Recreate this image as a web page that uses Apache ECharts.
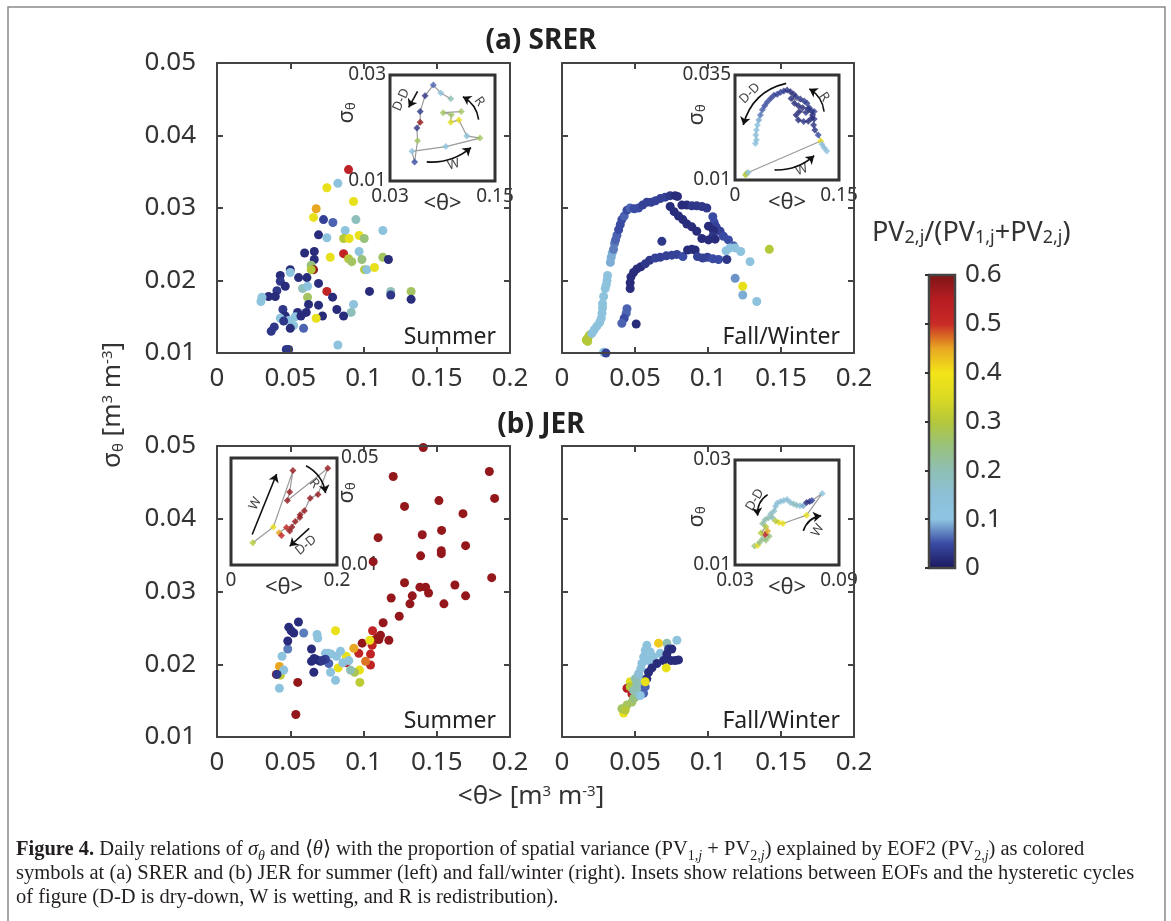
<!DOCTYPE html>
<html><head><meta charset="utf-8">
<script src="https://cdn.jsdelivr.net/npm/echarts@6/dist/echarts.min.js"></script>
<style>
html,body{margin:0;padding:0;background:#fff;}
#chart{width:1171px;height:921px;position:absolute;left:0;top:0;}
#cap{position:absolute;left:16px;top:836px;font-family:"Liberation Serif",serif;font-size:20.5px;line-height:24px;color:#231f20;white-space:nowrap;}
#cap sub{font-size:14px;line-height:0;}
</style></head><body>
<div id="chart"></div>
<div id="cap"><b>Figure 4.</b> Daily relations of <i>σ<sub>θ</sub></i> and ⟨<i>θ</i>⟩ with the proportion of spatial variance (PV<sub>1,<i>j</i></sub> + PV<sub>2,<i>j</i></sub>) explained by EOF2 (PV<sub>2,<i>j</i></sub>) as colored<br>symbols at (a) SRER and (b) JER for summer (left) and fall/winter (right). Insets show relations between EOFs and the hysteretic cycles<br>of figure (D-D is dry-down, W is wetting, and R is redistribution).</div>
<script>
// ---------- colour scale (PV2,j/(PV1,j+PV2,j), 0 .. 0.6, evenly spaced) ----------
const colormap = ['#1c1860','#3a4ba3','#8ec5e2','#8dc0d8','#8fbfb4','#98c27c','#b5c83a','#dcda22','#f2e418','#e8a622','#c92a26','#b61c22','#7d1616'];
const colorbarTicks = [0, 0.1, 0.2, 0.3, 0.4, 0.5, 0.6];
const mainXTicks = [0, 0.05, 0.1, 0.15, 0.2];
const mainYTicks = [0.01, 0.02, 0.03, 0.04, 0.05];

// ---------- main panels: [<theta>, sigma_theta, PV ratio] ----------
const srerSummer = [[0.0898,0.0353,0.53],[0.0825,0.0334,0.12],[0.075,0.0328,0.38],[0.0932,0.0309,0.38],[0.0677,0.0299,0.45],[0.0659,0.0287,0.38],[0.0727,0.0284,0.04],[0.0791,0.0280,0.06],[0.0948,0.0284,0.19],[0.0875,0.0269,0.12],[0.1132,0.0269,0.12],[0.0693,0.0263,0.02],[0.075,0.0259,0.12],[0.0864,0.0258,0.3],[0.0902,0.0258,0.38],[0.097,0.0262,0.38],[0.1005,0.0258,0.25],[0.0598,0.0238,0.02],[0.0664,0.024,0.02],[0.0864,0.0237,0.52],[0.097,0.024,0.12],[0.0773,0.0232,0.38],[0.0898,0.023,0.3],[0.092,0.0226,0.27],[0.0989,0.0229,0.25],[0.1132,0.0232,0.27],[0.117,0.0229,0.02],[0.0664,0.0229,0.02],[0.0643,0.0221,0.25],[0.0659,0.0215,0.58],[0.0643,0.0215,0.3],[0.05,0.0215,0.02],[0.05,0.0211,0.12],[0.0432,0.0207,0.02],[0.0557,0.0204,0.02],[0.0614,0.0204,0.02],[0.1007,0.0215,0.3],[0.1023,0.0215,0.12],[0.1075,0.0218,0.38],[0.0432,0.0199,0.03],[0.0466,0.0192,0.02],[0.0409,0.0186,0.03],[0.0584,0.0189,0.19],[0.0618,0.0192,0.12],[0.0693,0.0196,0.02],[0.075,0.0185,0.52],[0.0789,0.0177,0.02],[0.0618,0.0177,0.27],[0.0398,0.0178,0.02],[0.0352,0.0178,0.02],[0.0307,0.0177,0.12],[0.03,0.0171,0.12],[0.1041,0.0185,0.02],[0.1186,0.0185,0.19],[0.1186,0.018,0.03],[0.1325,0.0185,0.27],[0.1325,0.0174,0.02],[0.0625,0.0167,0.02],[0.0693,0.0166,0.02],[0.0932,0.0167,0.12],[0.045,0.016,0.03],[0.055,0.0156,0.02],[0.0609,0.0156,0.02],[0.0818,0.016,0.02],[0.0916,0.0156,0.19],[0.0864,0.0151,0.02],[0.072,0.0151,0.02],[0.0677,0.0148,0.38],[0.0466,0.0151,0.02],[0.0432,0.0148,0.12],[0.0534,0.015,0.12],[0.0573,0.0151,0.02],[0.0489,0.0145,0.12],[0.0455,0.0144,0.03],[0.0523,0.0138,0.12],[0.05,0.0134,0.02],[0.0591,0.0134,0.06],[0.0391,0.0136,0.03],[0.037,0.013,0.03],[0.0825,0.0111,0.12],[0.0473,0.0105,0.03],[0.0489,0.0105,0.03]];

const srerFallWinter = [[0.0166,0.0118,0.3],[0.0178,0.0121,0.3],[0.0189,0.0125,0.3],[0.0176,0.0116,0.3],[0.0285,0.0101,0.12],[0.0301,0.0100,0.04],[0.0205,0.0127,0.13],[0.0221,0.0132,0.13],[0.0239,0.0137,0.13],[0.0258,0.0142,0.13],[0.0269,0.0148,0.13],[0.0274,0.0155,0.13],[0.0278,0.0162,0.13],[0.0278,0.0168,0.13],[0.0285,0.0178,0.13],[0.0296,0.0189,0.13],[0.0303,0.0194,0.13],[0.0308,0.0200,0.13],[0.0312,0.0207,0.13],[0.0331,0.0225,0.09],[0.0337,0.0232,0.09],[0.0344,0.0238,0.09],[0.0353,0.0243,0.07],[0.0360,0.0251,0.07],[0.0367,0.0256,0.06],[0.0376,0.0262,0.06],[0.0388,0.0270,0.05],[0.0399,0.0277,0.05],[0.0410,0.0284,0.05],[0.0426,0.0289,0.06],[0.0445,0.0297,0.05],[0.0467,0.0300,0.06],[0.0495,0.0299,0.05],[0.0524,0.0300,0.05],[0.0552,0.0304,0.04],[0.0581,0.0308,0.04],[0.0611,0.0308,0.04],[0.0641,0.0310,0.04],[0.0673,0.0313,0.04],[0.0707,0.0315,0.04],[0.0741,0.0317,0.03],[0.0775,0.0317,0.02],[0.0791,0.0316,0.02],[0.0741,0.0302,0.02],[0.0768,0.0295,0.02],[0.0798,0.0289,0.02],[0.0828,0.0284,0.02],[0.0855,0.0278,0.02],[0.0889,0.0274,0.02],[0.0923,0.0268,0.02],[0.0958,0.0258,0.02],[0.0821,0.0304,0.02],[0.0855,0.0304,0.02],[0.0889,0.0303,0.03],[0.0923,0.0303,0.03],[0.0958,0.0302,0.03],[0.0992,0.0300,0.03],[0.1033,0.0288,0.05],[0.1042,0.0280,0.05],[0.1056,0.0274,0.04],[0.1083,0.0268,0.04],[0.1106,0.0261,0.05],[0.1140,0.0256,0.05],[0.1174,0.0248,0.06],[0.1151,0.0245,0.1],[0.1124,0.0241,0.12],[0.1186,0.0245,0.12],[0.1224,0.0240,0.12],[0.1288,0.0226,0.12],[0.1186,0.0203,0.08],[0.1238,0.0192,0.38],[0.1238,0.0180,0.09],[0.1334,0.0171,0.12],[0.1420,0.0243,0.3],[0.1003,0.0275,0.02],[0.1037,0.0269,0.02],[0.1033,0.0261,0.03],[0.1003,0.0256,0.02],[0.1049,0.0257,0.02],[0.0467,0.0189,0.02],[0.0467,0.0197,0.02],[0.0472,0.0205,0.02],[0.0490,0.0211,0.02],[0.0513,0.0216,0.02],[0.0540,0.0219,0.02],[0.0570,0.0223,0.03],[0.0600,0.0228,0.03],[0.0638,0.0231,0.04],[0.0673,0.0232,0.04],[0.0714,0.0234,0.04],[0.0752,0.0235,0.04],[0.0787,0.0236,0.04],[0.0828,0.0233,0.05],[0.0860,0.0242,0.02],[0.0889,0.0243,0.02],[0.0912,0.0242,0.02],[0.0928,0.0233,0.04],[0.0964,0.0231,0.04],[0.0996,0.0232,0.04],[0.1033,0.0230,0.05],[0.1072,0.0229,0.05],[0.1129,0.0229,0.03],[0.0684,0.0254,0.03],[0.0445,0.0161,0.06],[0.0440,0.0155,0.06],[0.0426,0.0148,0.05],[0.0410,0.0141,0.06],[0.0508,0.0140,0.02]];

const jerSummer = [[0.1408,0.0498,0.58],[0.1203,0.0458,0.58],[0.1859,0.0465,0.58],[0.1895,0.0428,0.58],[0.1280,0.0417,0.58],[0.1515,0.0425,0.58],[0.1679,0.0407,0.58],[0.1100,0.0374,0.58],[0.1401,0.0378,0.58],[0.1533,0.0384,0.58],[0.1697,0.0363,0.58],[0.1066,0.0341,0.58],[0.1390,0.0349,0.58],[0.1531,0.0356,0.58],[0.1531,0.0352,0.58],[0.1875,0.0319,0.58],[0.1280,0.0312,0.58],[0.1189,0.0291,0.58],[0.1333,0.0294,0.58],[0.1317,0.0283,0.58],[0.1385,0.0306,0.58],[0.1424,0.0306,0.58],[0.1444,0.0298,0.58],[0.1624,0.0309,0.58],[0.1549,0.0283,0.58],[0.1697,0.0294,0.58],[0.1244,0.0266,0.58],[0.1134,0.0257,0.58],[0.1093,0.0236,0.58],[0.1116,0.0240,0.58],[0.1173,0.0233,0.58],[0.0991,0.0229,0.58],[0.0551,0.0175,0.58],[0.0538,0.0131,0.58],[0.1071,0.0233,0.58],[0.1105,0.0234,0.58],[0.1062,0.0246,0.52],[0.1059,0.0226,0.52],[0.1048,0.0214,0.52],[0.1048,0.0199,0.52],[0.0882,0.0202,0.52],[0.1014,0.0204,0.47],[0.0968,0.0215,0.52],[0.0405,0.0186,0.57],[0.0934,0.0222,0.45],[0.0426,0.0197,0.45],[0.0809,0.0246,0.38],[0.1043,0.0233,0.38],[0.0827,0.0195,0.38],[0.0973,0.0192,0.38],[0.0882,0.0211,0.38],[0.0975,0.0175,0.31],[0.0433,0.0185,0.31],[0.0939,0.0189,0.28],[0.0911,0.0192,0.2],[0.0426,0.0167,0.12],[0.0444,0.0211,0.12],[0.0456,0.0192,0.12],[0.0683,0.0241,0.12],[0.0688,0.0236,0.12],[0.0740,0.0215,0.12],[0.0759,0.0215,0.12],[0.0779,0.0214,0.12],[0.0843,0.0218,0.12],[0.0816,0.0211,0.12],[0.0775,0.0189,0.12],[0.0809,0.0178,0.12],[0.0900,0.0205,0.12],[0.0859,0.0202,0.12],[0.0483,0.0221,0.07],[0.0592,0.0243,0.07],[0.0763,0.0201,0.06],[0.0490,0.0251,0.02],[0.0506,0.0246,0.02],[0.0524,0.0243,0.02],[0.0556,0.0258,0.02],[0.0483,0.0232,0.02],[0.0645,0.0221,0.02],[0.0645,0.0204,0.02],[0.0663,0.0208,0.02],[0.0683,0.0206,0.02],[0.0706,0.0204,0.02],[0.0661,0.0189,0.02],[0.0740,0.0207,0.04],[0.0718,0.0205,0.03],[0.0410,0.0186,0.03]];

const jerFallWinter = [[0.0581,0.0226,0.13],[0.0570,0.0219,0.13],[0.0559,0.0210,0.13],[0.0547,0.0201,0.13],[0.0540,0.0194,0.13],[0.0531,0.0182,0.13],[0.0524,0.0173,0.13],[0.0518,0.0164,0.18],[0.0787,0.0233,0.12],[0.0718,0.0229,0.2],[0.0661,0.0229,0.42],[0.0604,0.0217,0.13],[0.0627,0.0210,0.13],[0.0673,0.0215,0.13],[0.0695,0.0210,0.13],[0.0593,0.0205,0.13],[0.0730,0.0221,0.03],[0.0752,0.0221,0.02],[0.0718,0.0214,0.02],[0.0695,0.0205,0.02],[0.0650,0.0201,0.02],[0.0616,0.0195,0.02],[0.0593,0.0189,0.02],[0.0581,0.0180,0.02],[0.0570,0.0169,0.06],[0.0559,0.0160,0.06],[0.0775,0.0205,0.02],[0.0798,0.0206,0.02],[0.0746,0.0205,0.02],[0.0714,0.0195,0.38],[0.0570,0.0176,0.38],[0.0422,0.0133,0.38],[0.0467,0.0176,0.36],[0.0445,0.0167,0.55],[0.0479,0.0159,0.55],[0.0410,0.0139,0.27],[0.0445,0.0144,0.27],[0.0479,0.0148,0.27],[0.0490,0.0153,0.25],[0.0467,0.0169,0.3],[0.0502,0.0155,0.25],[0.0513,0.0160,0.22],[0.0433,0.0137,0.3],[0.0513,0.0173,0.2],[0.0502,0.0180,0.2],[0.0490,0.0164,0.2],[0.0524,0.0187,0.15],[0.0536,0.0157,0.1]];

// ---------- insets: ordered cycle points [<theta>, sigma_theta, PV ratio] ----------
const srerSummerInset = [[0.0994,0.0255,0.2],[0.0881,0.0266,0.12],[0.0795,0.0281,0.06],[0.0701,0.0261,0.03],[0.0645,0.0231,0.03],[0.0645,0.0211,0.58],[0.0608,0.0200,0.03],[0.0615,0.0176,0.27],[0.0581,0.0136,0.05],[0.0551,0.0156,0.12],[0.0938,0.0165,0.12],[0.1328,0.0181,0.27],[0.1178,0.0185,0.15],[0.1088,0.0215,0.38],[0.0994,0.0211,0.36],[0.1001,0.0225,0.27],[0.0908,0.0229,0.27],[0.1114,0.0231,0.27]];
const srerFallWinterInset = [[0.0152,0.0112,0.3],[0.0167,0.0116,0.3],[0.0190,0.0118,0.12],[0.1238,0.0193,0.38],[0.1252,0.0185,0.1],[0.1285,0.0177,0.12],[0.1323,0.0169,0.12],[0.1200,0.0207,0.05],[0.1152,0.0219,0.03],[0.1133,0.0231,0.03],[0.1142,0.0245,0.03],[0.1104,0.0247,0.02],[0.1057,0.0240,0.02],[0.0990,0.0239,0.03],[0.0914,0.0243,0.02],[0.0881,0.0255,0.02],[0.0928,0.0263,0.02],[0.1023,0.0261,0.03],[0.1142,0.0263,0.04],[0.1119,0.0255,0.02],[0.1104,0.0264,0.03],[0.1057,0.0269,0.02],[0.1071,0.0272,0.03],[0.0976,0.0272,0.02],[0.0914,0.0277,0.02],[0.0857,0.0283,0.02],[0.0809,0.0294,0.02],[0.1038,0.0283,0.03],[0.1000,0.0288,0.04],[0.0942,0.0293,0.03],[0.0881,0.0298,0.03],[0.0847,0.0304,0.02],[0.0800,0.0310,0.02],[0.0752,0.0314,0.03],[0.0704,0.0312,0.03],[0.0657,0.0309,0.04],[0.0609,0.0304,0.04],[0.0562,0.0302,0.04],[0.0514,0.0294,0.04],[0.0466,0.0286,0.05],[0.0428,0.0277,0.05],[0.0395,0.0267,0.06],[0.0367,0.0255,0.07],[0.0343,0.0243,0.09],[0.0324,0.0231,0.1],[0.0309,0.0219,0.12],[0.0300,0.0207,0.13],[0.0309,0.0195,0.13],[0.0295,0.0187,0.13]];
const jerSummerInset = [[0.0412,0.0183,0.3],[0.0800,0.0242,0.38],[0.1169,0.0453,0.58],[0.1107,0.0373,0.58],[0.1064,0.0341,0.58],[0.1827,0.0462,0.58],[0.1642,0.0364,0.58],[0.1494,0.0350,0.58],[0.1384,0.0303,0.58],[0.1304,0.0288,0.58],[0.1298,0.0278,0.58],[0.1212,0.0263,0.58],[0.1150,0.0242,0.58],[0.1107,0.0227,0.58],[0.1046,0.0240,0.52],[0.0904,0.0221,0.45],[0.0953,0.0210,0.52]];
const jerFallWinterInset = [[0.0413,0.0136,0.25],[0.0431,0.0137,0.38],[0.0441,0.0143,0.25],[0.0459,0.0150,0.22],[0.0478,0.0147,0.25],[0.0497,0.0155,0.25],[0.0474,0.0158,0.55],[0.0488,0.0165,0.45],[0.0450,0.0161,0.3],[0.0478,0.0173,0.3],[0.0459,0.0179,0.22],[0.0474,0.0186,0.2],[0.0493,0.0190,0.2],[0.0516,0.0190,0.2],[0.0506,0.0197,0.18],[0.0525,0.0203,0.17],[0.0534,0.0212,0.15],[0.0544,0.0218,0.15],[0.0563,0.0221,0.15],[0.0581,0.0223,0.15],[0.0600,0.0225,0.15],[0.0619,0.0219,0.15],[0.0638,0.0216,0.18],[0.0656,0.0214,0.18],[0.0675,0.0213,0.15],[0.0694,0.0213,0.09],[0.0713,0.0219,0.02],[0.0731,0.0221,0.02],[0.0744,0.0223,0.05],[0.0803,0.0236,0.12],[0.0713,0.0195,0.38],[0.0576,0.0179,0.38],[0.0553,0.0181,0.38],[0.0534,0.0184,0.3]];

// ---------- inset annotation arrows (data coordinates of each inset) ----------
const srerSummerArrows = [
  {label:'D-D', from:[0.0615,0.0269], to:[0.0514,0.0239], curve:0, at:[0.0428,0.0253], rot:65},
  {label:'R', from:[0.1313,0.0216], to:[0.1133,0.0259], curve:-0.25, at:[0.1320,0.0250], rot:-55},
  {label:'W', from:[0.0720,0.0136], to:[0.1226,0.0163], curve:-0.2, at:[0.1028,0.0131], rot:15}];
const srerFallWinterArrows = [
  {label:'D-D', from:[0.0738,0.0330], to:[0.0119,0.0231], curve:-0.3, at:[0.0214,0.0306], rot:45},
  {label:'R', from:[0.1285,0.0263], to:[0.1071,0.0317], curve:-0.25, at:[0.1285,0.0298], rot:-55},
  {label:'W', from:[0.0571,0.0124], to:[0.1142,0.0158], curve:-0.2, at:[0.0962,0.0124], rot:20}];
const jerSummerArrows = [
  {label:'W', from:[0.0400,0.0214], to:[0.0861,0.0440], curve:0, at:[0.0461,0.0329], rot:62},
  {label:'R', from:[0.1415,0.0471], to:[0.1784,0.0369], curve:0.25, at:[0.1568,0.0405], rot:-50},
  {label:'D-D', from:[0.1476,0.0237], to:[0.1107,0.0170], curve:0, at:[0.1415,0.0174], rot:40}];
const jerFallWinterArrows = [
  {label:'D-D', from:[0.0488,0.0234], to:[0.0431,0.0194], curve:-0.3, at:[0.0415,0.0224], rot:60},
  {label:'W', from:[0.0694,0.0165], to:[0.0797,0.0194], curve:0.3, at:[0.0778,0.0166], rot:60}];

// ---------- build ----------
const FONT = 'Noto Sans';
const TXT = '#333';
const AXC = '#444';
const fmt = v => String(+(+v).toFixed(4));
const near = (a, b) => Math.abs(a - b) < 1e-7;

const mains = [
  {left:217, top:63, width:293, height:290, yLabels:true, data:srerSummer, season:'Summer'},
  {left:562, top:63, width:292, height:290, yLabels:false, data:srerFallWinter, season:'Fall/Winter'},
  {left:217, top:446, width:293, height:291, yLabels:true, data:jerSummer, season:'Summer'},
  {left:562, top:446, width:292, height:291, yLabels:false, data:jerFallWinter, season:'Fall/Winter'}];
// sig: offset of the rotated sigma_theta label centre from the inset's top-left corner
const insets = [
  {left:390, top:75, width:105, height:106, x:[0.03,0.15], xi:0.03, y:[0.01,0.03], yi:0.01, yPos:'left', sig:[-43,38], pts:srerSummerInset, arrows:srerSummerArrows},
  {left:735, top:75, width:104, height:105, x:[0,0.15], xi:0.05, y:[0.01,0.035], yi:0.005, yPos:'left', sig:[-38,40], pts:srerFallWinterInset, arrows:srerFallWinterArrows},
  {left:231, top:458, width:106, height:107, x:[0,0.2], xi:0.1, y:[0.01,0.05], yi:0.01, yPos:'right', sig:[116,35], pts:jerSummerInset, arrows:jerSummerArrows},
  {left:735, top:460, width:104, height:105, x:[0.03,0.09], xi:0.03, y:[0.01,0.03], yi:0.01, yPos:'left', sig:[-38,57], pts:jerFallWinterInset, arrows:jerFallWinterArrows}];

const grid = [], xAxis = [], yAxis = [], series = [], mapped = [];
const axLine = {show:true, onZero:false, lineStyle:{color:AXC, width:2}};
const axTick = {show:true, inside:true, length:6, lineStyle:{color:AXC, width:2}};

mains.forEach((m, i) => {
  grid.push({left:m.left, top:m.top, width:m.width, height:m.height, containLabel:false});
  const xb = {gridIndex:i, type:'value', min:0, max:0.2, interval:0.05, axisLine:axLine, axisTick:axTick, splitLine:{show:false}, z:5};
  const yb = {gridIndex:i, type:'value', min:0.01, max:0.05, interval:0.01, axisLine:axLine, axisTick:axTick, splitLine:{show:false}, z:5};
  xAxis.push(Object.assign({}, xb, {position:'bottom', axisLabel:{show:true, fontSize:26, fontFamily:FONT, color:TXT, margin:13, formatter:fmt}}));
  xAxis.push(Object.assign({}, xb, {position:'top', axisLabel:{show:false}}));
  yAxis.push(Object.assign({}, yb, {position:'left', axisLabel:{show:m.yLabels, fontSize:26, fontFamily:FONT, color:TXT, margin:21, formatter:fmt}}));
  yAxis.push(Object.assign({}, yb, {position:'right', axisLabel:{show:false}}));
  mapped.push(series.length);
  series.push({type:'scatter', xAxisIndex:2*i, yAxisIndex:2*i, data:m.data, symbol:'circle', symbolSize:9, itemStyle:{opacity:1}, silent:true, z:3});
});

insets.forEach((s, k) => {
  const gi = 4 + k, ai = 8 + k;
  grid.push({left:s.left, top:s.top, width:s.width, height:s.height, show:true, borderColor:'#333', borderWidth:3, backgroundColor:'#fff'});
  const xf = v => (near(v, s.x[0]) || near(v, s.x[1])) ? fmt(v) : '';
  const yf = v => (near(v, s.y[0]) || near(v, s.y[1])) ? fmt(v) : '';
  xAxis.push({gridIndex:gi, type:'value', min:s.x[0], max:s.x[1], interval:s.xi, position:'bottom',
    axisLine:{show:false}, axisTick:{show:false}, splitLine:{show:false},
    axisLabel:{fontSize:19, fontFamily:FONT, color:TXT, margin:6, formatter:xf},
    name:'<θ>', nameLocation:'middle', nameGap:12, nameMoveOverlap:false, nameTextStyle:{fontSize:22, fontFamily:FONT, color:TXT}});
  yAxis.push({gridIndex:gi, type:'value', min:s.y[0], max:s.y[1], interval:s.yi, position:s.yPos,
    axisLine:{show:false}, axisTick:{show:false}, splitLine:{show:false},
    axisLabel:{fontSize:19, fontFamily:FONT, color:TXT, margin:4, formatter:yf}});
  series.push({type:'line', xAxisIndex:ai, yAxisIndex:ai, data:s.pts.map(p => [p[0], p[1]]), symbol:'none', silent:true,
    lineStyle:{color:'#9a9a9a', width:1.2}, z:3});
  mapped.push(series.length);
  series.push({type:'scatter', xAxisIndex:ai, yAxisIndex:ai, data:s.pts, symbol:'diamond', symbolSize:7, silent:true, z:4});
  s.arrows.forEach(a => {
    series.push({type:'lines', coordinateSystem:'cartesian2d', xAxisIndex:ai, yAxisIndex:ai, polyline:false, silent:true,
      symbol:['none','arrow'], symbolSize:8, lineStyle:{color:'#111', width:1.6, opacity:1, curveness:a.curve},
      data:[{coords:[a.from, a.to]}], z:5});
  });
  series.push({type:'scatter', xAxisIndex:ai, yAxisIndex:ai, symbolSize:1, silent:true, itemStyle:{color:'rgba(0,0,0,0)'},
    data:s.arrows.map(a => ({value:a.at, name:a.label, label:{rotate:a.rot}})),
    label:{show:true, position:'inside', formatter:'{b}', color:'#111', fontSize:13, fontFamily:FONT}, z:6});
});

// colour bar
grid.push({left:929, top:275, width:26, height:293});
xAxis.push({gridIndex:8, type:'value', min:0, max:1, show:false});
yAxis.push({gridIndex:8, type:'value', min:0, max:0.6, interval:0.1, position:'right', z:10,
  axisLine:{show:false}, axisTick:{show:true, inside:true, length:4, lineStyle:{color:'#333', width:2}}, splitLine:{show:false},
  axisLabel:{fontSize:26, fontFamily:FONT, color:TXT, margin:10, formatter:fmt}});
series.push({type:'custom', xAxisIndex:12, yAxisIndex:12, silent:true, data:[[0.5, 0.3]], z:2,
  renderItem:(params, api) => {
    const p0 = api.coord([0, colorbarTicks[0]]), p1 = api.coord([1, colorbarTicks[colorbarTicks.length-1]]);
    const shape = {x:p0[0], y:p1[1], width:p1[0]-p0[0], height:p0[1]-p1[1]};
    const stops = colormap.map((c, i) => ({offset:i/(colormap.length-1), color:c}));
    return {type:'group', children:[
      {type:'rect', shape:shape, style:{fill:new echarts.graphic.LinearGradient(0,1,0,0,stops)}},
      {type:'rect', shape:shape, style:{fill:'none', stroke:'#444', lineWidth:2.5}}]};
  }});

const richMain = {
  a:{fontSize:26, fontFamily:FONT, fill:TXT, color:TXT},
  b:{fontSize:15, fontFamily:FONT, fill:TXT, color:TXT, verticalAlign:'bottom'},
  c:{fontSize:15, fontFamily:FONT, fill:TXT, color:TXT, verticalAlign:'top'}};
const richSig = {
  a:{fontSize:22, fontFamily:FONT, fill:TXT, color:TXT},
  b:{fontSize:13, fontFamily:FONT, fill:TXT, color:TXT, verticalAlign:'bottom'}};
const richCb = {
  a:{fontSize:27, fontFamily:FONT, fill:TXT, color:TXT},
  b:{fontSize:18, fontFamily:FONT, fill:TXT, color:TXT, verticalAlign:'bottom'}};
const graphic = [
  {type:'rect', silent:true, shape:{x:8, y:7, width:1157, height:940}, style:{fill:'none', stroke:'#8a8a8a', lineWidth:1.5}},
  {type:'text', silent:true, x:541, y:41, style:{text:'(a) SRER', font:'bold 28px "Noto Sans"', fill:'#222', align:'center', verticalAlign:'middle'}},
  {type:'text', silent:true, x:541, y:425, style:{text:'(b) JER', font:'bold 28px "Noto Sans"', fill:'#222', align:'center', verticalAlign:'middle'}},
  {type:'text', silent:true, x:113, y:405, rotation:Math.PI/2, style:{text:'{a|σ}{b|θ}{a| [m}{c|3}{a| m}{c|-3}{a|]}', rich:richMain, align:'center', verticalAlign:'middle'}},
  {type:'text', silent:true, x:531, y:797, style:{text:'{a|<θ> [m}{c|3}{a| m}{c|-3}{a|]}', rich:richMain, align:'center', verticalAlign:'middle'}},
  {type:'text', silent:true, x:872, y:233, style:{text:'{a|PV}{b|2,j}{a|/(PV}{b|1,j}{a|+PV}{b|2,j}{a|)}', rich:richCb, align:'left', verticalAlign:'middle'}}
];
insets.forEach(s => {
  graphic.push({type:'text', silent:true, x:s.left + s.sig[0], y:s.top + s.sig[1], rotation:Math.PI/2,
    style:{text:'{a|σ}{b|θ}', rich:richSig, align:'center', verticalAlign:'middle'}});
});
mains.forEach(m => {
  graphic.push({type:'text', silent:true, x:m.left + m.width - 14, y:m.top + m.height - 16,
    style:{text:m.season, font:'23px "Noto Sans"', fill:'#222', align:'right', verticalAlign:'middle'}});
});

const chart = echarts.init(document.getElementById('chart'), null, {renderer:'canvas'});
chart.setOption({
  animation:false,
  backgroundColor:'#fff',
  grid, xAxis, yAxis, series, graphic,
  visualMap:{type:'continuous', show:false, min:0, max:0.6, dimension:2, seriesIndex:mapped, inRange:{color:colormap}}
});
</script></body></html>
